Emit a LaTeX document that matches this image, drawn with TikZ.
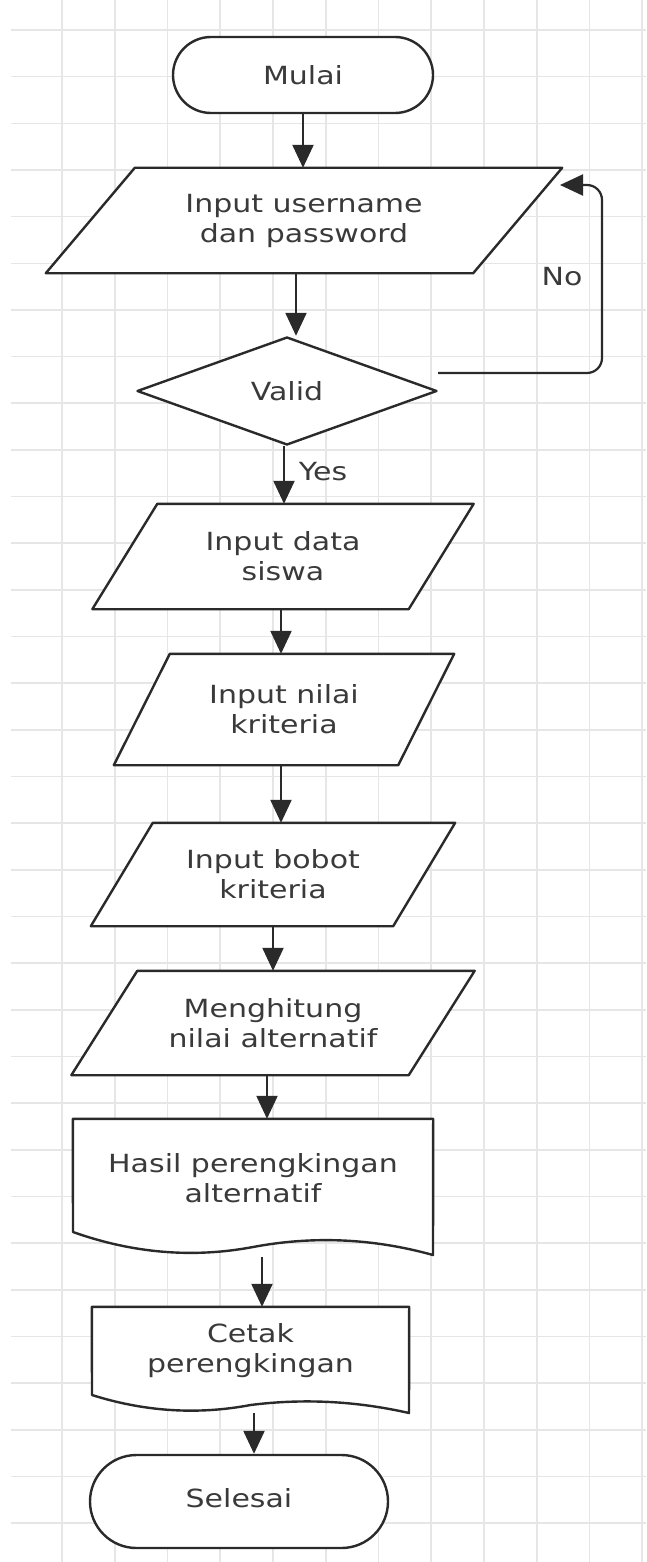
\documentclass[tikz,border=0pt]{standalone}
\usepackage{fontspec}
\setmainfont{DejaVu Sans}[FakeStretch=1.2]
\usetikzlibrary{arrows.meta,shapes.geometric,calc}
\definecolor{linecol}{HTML}{2A2A2A}
\definecolor{txtcol}{HTML}{3A3A3A}
\definecolor{gridcol}{HTML}{E6E6E6}
\pgfdeclarelayer{gridlayer}
\pgfdeclarelayer{shapelayer}
\pgfsetlayers{gridlayer,shapelayer,main}
\newcommand\ioshape[2]{%
  \begin{pgfonlayer}{shapelayer}
  \draw[outline,fill=white] ([xshift=#2]#1.north west) -- ([xshift=#2]#1.north east)
     -- ([xshift=-#2]#1.south east) -- ([xshift=-#2]#1.south west) -- cycle;
  \end{pgfonlayer}}
\begin{document}
\begin{tikzpicture}[x=1pt,y=-1pt,
  outline/.style={draw=linecol,line width=2.4pt,line join=round},
  txt/.style={text=txtcol,font=\fontsize{25pt}{30pt}\selectfont,align=center,inner sep=0pt},
  term/.style={txt,outline,fill=white,rectangle},
  io/.style={txt,rectangle},
  dec/.style={txt,outline,fill=white,diamond,minimum width=300pt,minimum height=108pt},
  lbl/.style={txt},
  arr/.style={draw=linecol,line width=2.2pt,-{Triangle[length=23pt,width=21pt]}},
  gridline/.style={draw=gridcol,line width=1.6pt}]
\useasboundingbox (0,0) rectangle (646,1562);
\begin{pgfonlayer}{gridlayer}
\fill[white] (0,0) rectangle (646,1562);
\foreach \i in {0,...,11} \draw[gridline] ({62+52.75*\i},0) -- ({62+52.75*\i},1562);
\foreach \j in {0,...,32} \draw[gridline] (11,{30+46.66*\j}) -- (646,{30+46.66*\j});
\end{pgfonlayer}

\node[term,minimum width=260pt,minimum height=76pt,rounded corners=38pt] (start) at (303,75) {Mulai};

\node[io,minimum width=427pt,minimum height=105pt] (user) at (304,220.5) {Input username\\dan password};
\ioshape{user}{44.5pt}

\node[dec] (valid) at (287,391) {Valid};

\node[io,minimum width=316pt,minimum height=105pt] (siswa) at (283,556.5) {Input data\\siswa};
\ioshape{siswa}{32.5pt}

\node[io,minimum width=284pt,minimum height=111pt] (nilai) at (284,709.5) {Input nilai\\kriteria};
\ioshape{nilai}{28pt}

\node[io,minimum width=302pt,minimum height=103pt] (bobot) at (273,874.5) {Input bobot\\kriteria};
\ioshape{bobot}{31pt}

\node[io,minimum width=337pt,minimum height=104pt] (hitung) at (273,1023) {Menghitung\\nilai alternatif};
\ioshape{hitung}{33pt}

\node[io,minimum width=360pt,minimum height=118pt] (hasil) at (253,1178) {Hasil perengkingan\\alternatif};
\begin{pgfonlayer}{shapelayer}
\draw[outline,fill=white] (hasil.north west) -- (hasil.north east) -- (433,1255)
  .. controls (373,1238.3) and (313,1235.7) .. (253,1247)
  .. controls (193,1258.3) and (133,1253.3) .. (73,1232) -- cycle;
\end{pgfonlayer}

\node[io,minimum width=317pt,minimum height=88pt] (cetak) at (250.5,1351) {Cetak\\perengkingan};
\begin{pgfonlayer}{shapelayer}
\draw[outline,fill=white] (cetak.north west) -- (cetak.north east) -- (409,1413)
  .. controls (356.2,1401) and (303.3,1398.3) .. (250.5,1405)
  .. controls (197.7,1415) and (144.8,1411.7) .. (92,1395) -- cycle;
\end{pgfonlayer}

\node[term,minimum width=298pt,minimum height=93pt,rounded corners=46.5pt] (stop) at (239,1501.5) {\raisebox{8pt}{Selesai}};

% connectors
\draw[arr] (start.south) -- (start.south |- user.north);
\draw[arr] ([xshift=-8pt]user.south) -- ([xshift=-8pt]user.south |- valid.north);
\coordinate (loopin) at (560,185);
\draw[arr,rounded corners=15pt] ([yshift=18pt]valid.east) -| ([xshift=42pt]loopin) -- (loopin);
\node[lbl] (no) at (562,277) {No};
\draw[arr] ([xshift=-3pt]valid.south) -- ([xshift=-3pt]valid.south |- siswa.north);
\node[lbl] (yes) at (323,472) {Yes};
\draw[arr] ([xshift=-2pt]siswa.south) -- ([xshift=-2pt]siswa.south |- nilai.north);
\draw[arr] ([xshift=-3pt]nilai.south) -- ([xshift=-3pt]nilai.south |- bobot.north);
\draw[arr] (bobot.south) -- (bobot.south |- hitung.north);
\draw[arr] ([xshift=-6pt]hitung.south) -- ([xshift=-6pt]hitung.south |- hasil.north);
\draw[arr] ([xshift=9pt,yshift=-20pt]hasil.south) -- ([xshift=9pt]hasil.south |- cetak.north);
\draw[arr] ([xshift=3.5pt,yshift=-18pt]cetak.south) -- ([xshift=3.5pt]cetak.south |- stop.north);
\end{tikzpicture}
\end{document}
